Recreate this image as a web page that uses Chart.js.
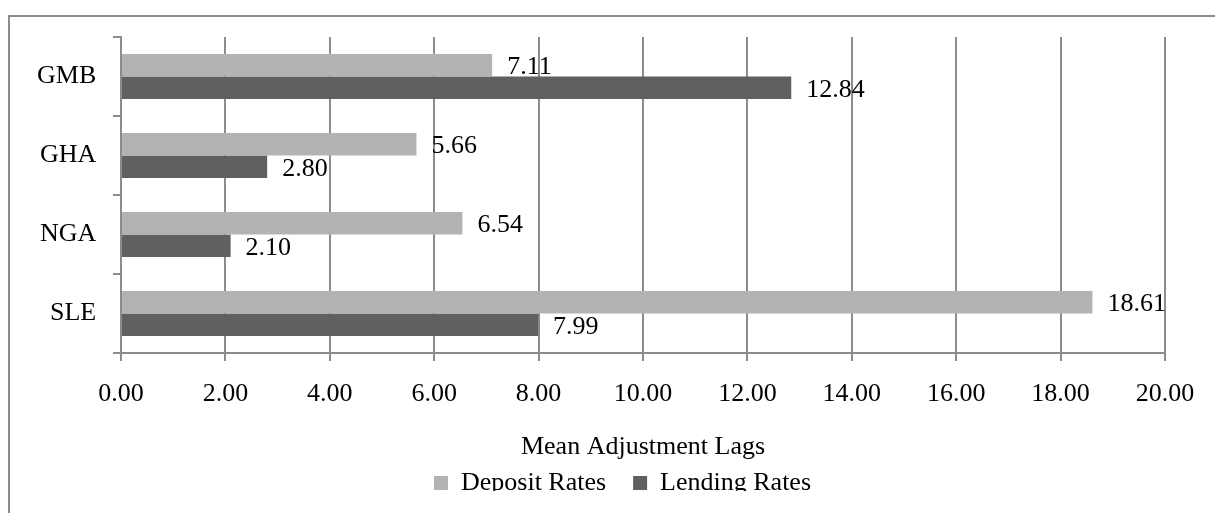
<!DOCTYPE html>
<html>
<head>
<meta charset="utf-8">
<script src="https://cdn.jsdelivr.net/npm/chart.js@4.4.1/dist/chart.umd.min.js"></script>
<style>
  html, body { margin: 0; padding: 0; background: #fff; overflow: hidden; }
  body { width: 1215px; height: 513px; position: relative; }
  #frame {
    position: absolute; left: 8px; top: 15px; width: 1400px; height: 700px;
    border-left: 2px solid #8c8c8c; border-top: 2px solid #8c8c8c;
  }
  #clip { position: absolute; left: 0; top: 0; width: 1215px; height: 491px; overflow: hidden; }
</style>
</head>
<body>
<div id="frame"></div>
<div id="clip"><canvas id="lagChart" width="1215" height="513"></canvas></div>
<script>
// negara (urutan dari atas ke bawah)
const countries = ['GMB', 'GHA', 'NGA', 'SLE'];
// mean adjustment lags
const depositRates = [7.11, 5.66, 6.54, 18.61];
const lendingRates = [12.84, 2.80, 2.10, 7.99];
const xTicks = [0, 2, 4, 6, 8, 10, 12, 14, 16, 18, 20];

const serif = "'Liberation Serif', 'Times New Roman', serif";
const gridGray = '#8c8c8c';

Chart.defaults.font.family = serif;
Chart.defaults.font.size = 26;
Chart.defaults.color = '#000';

// label angka di ujung batang
const barValueLabels = {
  id: 'barValueLabels',
  afterDatasetsDraw(chart) {
    const ctx = chart.ctx;
    ctx.save();
    ctx.font = '26px ' + serif;
    ctx.fillStyle = '#000';
    ctx.textAlign = 'left';
    ctx.textBaseline = 'middle';
    chart.data.datasets.forEach((ds, i) => {
      chart.getDatasetMeta(i).data.forEach((bar, j) => {
        ctx.fillText(ds.data[j].toFixed(2), bar.x + 15, bar.y + 2);
      });
    });
    ctx.restore();
  }
};

const ctx = document.getElementById('lagChart').getContext('2d');
const barChart = new Chart(ctx, {
  type: 'bar',
  data: {
    labels: countries,
    datasets: [
      {
        label: 'Deposit Rates',
        data: depositRates,
        backgroundColor: '#b3b3b3',
        borderWidth: 0
      },
      {
        label: 'Lending Rates',
        data: lendingRates,
        backgroundColor: '#606060',
        borderWidth: 0
      }
    ]
  },
  options: {
    indexAxis: 'y',
    responsive: false,
    animation: false,
    categoryPercentage: 0.57,
    barPercentage: 1.0,
    layout: { padding: { left: 80, right: 50, top: 37, bottom: 7 } },
    plugins: {
      tooltip: { enabled: false },
      legend: {
        position: 'bottom',
        labels: {
          boxWidth: 14,
          boxHeight: 14,
          padding: 27,
          font: { size: 26, family: serif },
          color: '#000'
        }
      }
    },
    scales: {
      x: {
        min: 0,
        max: 20,
        afterBuildTicks: (scale) => {
          scale.ticks = xTicks.map(v => ({ value: v }));
        },
        afterFit: (scale) => { scale.height = 90; },
        ticks: {
          padding: 18,
          callback: (v) => Number(v).toFixed(2)
        },
        grid: { color: gridGray, lineWidth: 2, tickLength: 8 },
        border: { color: gridGray, width: 2 },
        title: {
          display: true,
          text: 'Mean Adjustment Lags',
          font: { size: 26, family: serif },
          color: '#000',
          padding: { top: 0, bottom: -19.5 }
        }
      },
      y: {
        afterFit: (scale) => { scale.width = 41; },
        // label kategori digambar di kiri sumbu (mirror + padding negatif supaya tidak terpotong)
        ticks: { mirror: true, crossAlign: 'far', padding: -84 },
        grid: { drawOnChartArea: false, color: gridGray, lineWidth: 2, tickLength: 8 },
        border: { color: gridGray, width: 2 }
      }
    }
  },
  plugins: [barValueLabels]
});
</script>
</body>
</html>
